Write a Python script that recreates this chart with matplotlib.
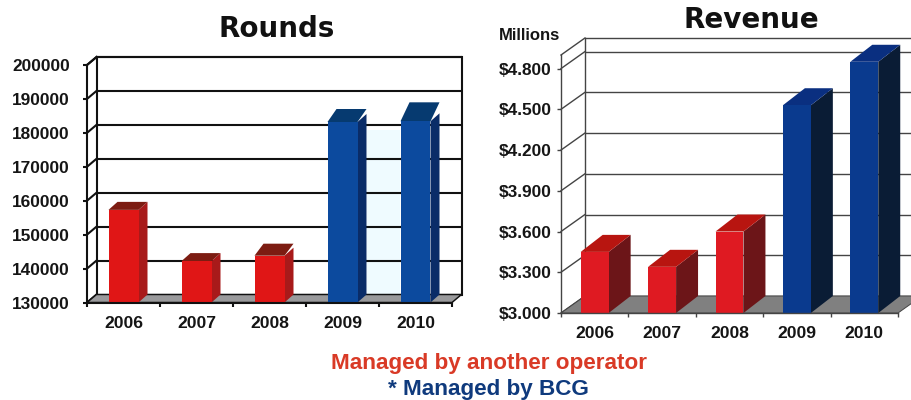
import matplotlib
matplotlib.use("Agg")
import matplotlib.pyplot as plt
from matplotlib.patches import Polygon

plt.rcParams["font.family"] = ["Liberation Sans", "DejaVu Sans"]

W, H = 911, 400

years = ["2006", "2007", "2008", "2009", "2010"]

rounds = [157300, 142200, 143800, 183200, 183400]
rounds_ticks = [130000, 140000, 150000, 160000, 170000, 180000, 190000, 200000]
rounds_labels = ["130000", "140000", "150000", "160000", "170000", "180000", "190000", "200000"]

revenue = [3.45, 3.34, 3.60, 4.53, 4.85]
revenue_ticks = [3.0, 3.3, 3.6, 3.9, 4.2, 4.5, 4.8]
revenue_labels = ["$3.000", "$3.300", "$3.600", "$3.900", "$4.200", "$4.500", "$4.800"]


def make_axes(fig, left, right, bottom, top):
    # axes covers the front plane of the 3d box, given in pixels
    return fig.add_axes([left / W, 1 - bottom / H, (right - left) / W, (bottom - top) / H])


def poly(ax, pts, color, z, edge="none", lw=0):
    ax.add_patch(Polygon(pts, closed=True, facecolor=color, edgecolor=edge,
                         linewidth=lw, zorder=z, clip_on=False))


def box_chart(ax, values, ticks, labels, ymin, ymax, wall_dx, wall_dy, bar_w, bar_dx, bar_dy,
              cap_dy, faces, line_color, lw, floor, pad_y, pad_x):
    ax.set_xlim(-0.5, 4.5)
    ax.set_ylim(ymin, ymax)
    ax.patch.set_visible(False)

    # back wall grid and the slanted lines on the left wall
    for t in list(ticks) + [ymax]:
        ax.plot([-0.5 + wall_dx, 4.5 + wall_dx], [t + wall_dy, t + wall_dy], color=line_color,
                lw=lw, zorder=1, clip_on=False, solid_capstyle="butt")
        ax.plot([-0.5, -0.5 + wall_dx], [t, t + wall_dy], color=line_color, lw=lw, zorder=1,
                clip_on=False)
    ax.plot([-0.5 + wall_dx] * 2, [ymin + wall_dy, ymax + wall_dy], color=line_color, lw=lw,
            zorder=1, clip_on=False)
    ax.plot([4.5 + wall_dx] * 2, [ymin + wall_dy, ymax + wall_dy], color=line_color, lw=lw,
            zorder=1, clip_on=False)

    # floor
    poly(ax, [(-0.5, ymin), (4.5, ymin), (4.5 + wall_dx, ymin + wall_dy),
              (-0.5 + wall_dx, ymin + wall_dy)], floor, 2, line_color, lw * 0.7)

    # bars
    for i, v in enumerate(values):
        front, side, top = faces[i]
        x0, x1 = i - bar_w / 2, i + bar_w / 2
        ax.bar(i, v - ymin, bottom=ymin, width=bar_w, color=front, zorder=5)
        poly(ax, [(x1, ymin), (x1 + bar_dx, ymin + bar_dy), (x1 + bar_dx, v + bar_dy), (x1, v)],
             side, 4)
        poly(ax, [(x0, v), (x1, v), (x1 + bar_dx, v + cap_dy[i]), (x0 + bar_dx, v + cap_dy[i])],
             top, 4)

    for s in ("top", "right"):
        ax.spines[s].set_visible(False)
    for s in ("left", "bottom"):
        ax.spines[s].set_color(line_color)
        ax.spines[s].set_linewidth(lw)
        ax.spines[s].set_zorder(6)

    ax.set_yticks(ticks)
    ax.set_yticklabels(labels, fontsize=12.4, fontweight="bold", color="#151515")
    ax.tick_params(axis="y", length=3, width=lw, color=line_color, pad=pad_y)

    # ticks sit between categories, labels at the category centres
    ax.set_xticks([-0.5, 0.5, 1.5, 2.5, 3.5, 4.5])
    ax.set_xticklabels([])
    ax.set_xticks(range(5), minor=True)
    ax.set_xticklabels(years, minor=True, fontsize=12.6, fontweight="bold", color="#151515")
    ax.tick_params(axis="x", which="major", length=3, width=lw, color=line_color)
    ax.tick_params(axis="x", which="minor", length=0, pad=pad_x)


fig = plt.figure(figsize=(W / 100, H / 100), dpi=100, facecolor="white")

# Rounds
px = 237.5 / 70000
red = ("#e01616", "#a81a1a", "#7c1c12")
blue = ("#0c4a9e", "#0a2c68", "#063a70")
ax1 = make_axes(fig, 87, 452, 302.5, 65)
box_chart(ax1, rounds, rounds_ticks, rounds_labels, 130000, 200000,
          9.5 / 73, 8 / px, 30 / 73, 9 / 73, 8 / px,
          [8 / px, 8 / px, 12 / px, 13 / px, 19 / px],
          [red, red, red, blue, blue], "#111111", 1.5, "#9a9a9c", 9.5, 9.5)
# pale panel behind the two blue bars
poly(ax1, [(3.34, 130000 + 8 / px), (3.79, 130000 + 8 / px), (3.79, 180700), (3.34, 180700)],
     "#effbff", 1.5)
for t in rounds_ticks[1:5]:
    ax1.plot([3.34, 3.79], [t + 8 / px, t + 8 / px], color="#111111", lw=1.5, zorder=1.6)

# Revenue
red2 = ("#df1a22", "#6c1518", "#b81510")
blue2 = ("#0a3a8e", "#0a1c35", "#0a2f80")
ax2 = make_axes(fig, 561, 898, 313, 55)
box_chart(ax2, revenue, revenue_ticks, revenue_labels, 3.0, 4.9,
          24 / 67.5, 17 / 135.7, 28 / 67.5, 22 / 67.5, 17 / 135.7,
          [17 / 135.7] * 5,
          [red2, red2, red2, blue2, blue2], "#444444", 1.0, "#808080", 4, 9)

fig.text(277 / W, 1 - 29 / H, "Rounds", family="DejaVu Sans", fontweight="bold", fontsize=20,
         ha="center", va="center", color="#111111")
fig.text(751 / W, 1 - 20 / H, "Revenue", family="DejaVu Sans", fontweight="bold", fontsize=20,
         ha="center", va="center", color="#111111")
fig.text(530 / W, 1 - 35 / H, "Millions", fontweight="bold", fontsize=12, ha="center",
         va="center", color="#151515")

fig.text(489 / W, 1 - 363 / H, "Managed by another operator", fontweight="bold", fontsize=16.2,
         ha="center", va="center", color="#d93a26")
fig.text(488 / W, 1 - 390 / H, "* Managed by BCG", fontweight="bold", fontsize=16.2,
         ha="center", va="center", color="#0f3a7d")

fig.savefig("out.png", dpi=100)
